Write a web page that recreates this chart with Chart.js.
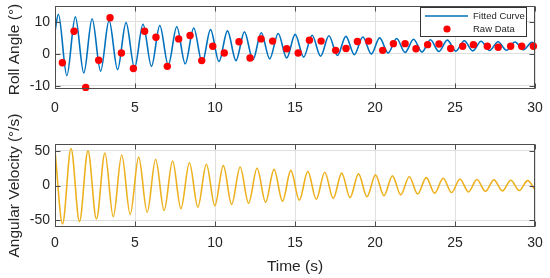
<!DOCTYPE html>
<html><head><meta charset="utf-8">
<script src="https://cdn.jsdelivr.net/npm/chart.js@4/dist/chart.umd.min.js"></script>
<style>
html,body{margin:0;padding:0;background:#fff;width:550px;height:278px;overflow:hidden}
canvas{position:absolute;left:0;top:0}
</style></head><body>
<canvas id="c2" width="550" height="278"></canvas>
<canvas id="c1" width="550" height="278"></canvas>
<script>
// ---- tick labels ----
const xTicks = [0, 5, 10, 15, 20, 25, 30];
const rollTicks = [-10, 0, 10];
const velTicks = [-50, 0, 50];
const seriesNames = ['Fitted Curve', 'Raw Data'];
const xTitle = 'Time (s)';
const rollTitle = 'Roll Angle (°)';
const velTitle = 'Angular Velocity (°/s)';

// ---- fitted roll angle (peaks / troughs) ----
const rollTime = [0, 0.21, 0.74, 1.27, 1.80, 2.32, 2.85, 3.38, 3.91, 4.44, 4.97, 5.50, 6.03, 6.55, 7.08, 7.61, 8.14, 8.67, 9.20, 9.72, 10.25,
  10.78, 11.31, 11.84, 12.37, 12.89, 13.42, 13.95, 14.48, 15.01, 15.54, 16.07, 16.60, 17.12, 17.65, 18.18, 18.71, 19.24, 19.77, 20.29,
  20.82, 21.35, 21.88, 22.41, 22.94, 23.46, 23.99, 24.52, 25.05, 25.58, 26.11, 26.63, 27.16, 27.69, 28.22, 28.75, 29.28, 29.81, 30];
const rollFit = [7.1, 12.4, -6.8, 11.6, -6.0, 11.0, -5.4, 10.5, -4.9, 9.8, -4.4, 9.3, -3.9, 8.9, -3.5, 8.5, -3.1, 8.1, -2.75, 7.6, -2.4,
  7.2, -2.1, 6.9, -1.8, 6.6, -1.55, 6.4, -1.3, 6.1, -1.0, 5.85, -0.75, 5.7, -0.5, 5.5, -0.25, 5.3, 0.0, 5.0,
  0.25, 4.8, 0.45, 4.6, 0.6, 4.45, 0.75, 4.3, 0.85, 4.1, 0.95, 3.95, 1.05, 3.8, 1.15, 3.7, 1.3, 3.6, 3.0];

// ---- raw roll data ----
const rawTime = [0.46, 1.19, 1.92, 2.73, 3.44, 4.15, 4.90, 5.60, 6.31, 7.02, 7.73, 8.44, 9.17, 9.86, 10.58, 11.50, 12.19, 12.88, 13.60, 14.48, 15.20,
  15.90, 16.63, 17.54, 18.19, 18.90, 19.60, 20.48, 21.15, 21.88, 22.56, 23.29, 24.00, 24.73, 25.48, 26.15, 27.02, 27.70, 28.48, 29.17, 29.90];
const rawRoll = [-2.8, 7.1, -10.5, -2.0, 11.3, 0.3, -4.6, 7.1, 5.2, -3.9, 4.7, 5.75, -2.1, 2.4, 0.3, 3.8, -1.3, 4.7, 4.0, 1.6, 0.3,
  4.3, 4.0, 1.1, 1.7, 3.9, 4.0, 1.1, 3.2, 3.2, 1.6, 2.9, 3.1, 1.7, 2.4, 2.9, 2.4, 2.1, 2.4, 2.4, 2.4];

// ---- angular velocity (peaks / troughs) ----
const velTime = [0, 0.47, 1.00, 1.53, 2.06, 2.59, 3.12, 3.64, 4.17, 4.70, 5.23, 5.76, 6.29, 6.82, 7.35, 7.87, 8.40, 8.93, 9.46, 9.99,
  10.52, 11.04, 11.57, 12.10, 12.63, 13.16, 13.69, 14.22, 14.74, 15.27, 15.80, 16.33, 16.86, 17.39, 17.92, 18.44, 18.97, 19.50, 20.03,
  20.56, 21.09, 21.61, 22.14, 22.67, 23.20, 23.73, 24.26, 24.79, 25.31, 25.84, 26.37, 26.90, 27.43, 27.96, 28.49, 29.01, 29.54, 30];
const velValue = [51, -55.5, 53.5, -52, 50, -48.5, 47, -45, 44, -41.8, 41, -38.8, 38, -36, 35.5, -33.5, 33, -31.3, 30.8, -29.3,
  28.7, -27.4, 26.8, -25.7, 25, -24.1, 23.3, -22.6, 21.8, -21.2, 20.4, -19.9, 19.1, -18.6, 17.9, -17.4, 16.8, -16.2, 15.4,
  -14.8, 13.9, -13.5, 12.6, -12.3, 11.4, -11.2, 10.4, -10.2, 9.5, -9.3, 8.7, -8.5, 8.1, -7.8, 7.6, -7.2, 7.0, -6.2];

const FONT = '"Liberation Sans", Arial, Helvetica, sans-serif';
Chart.defaults.font.family = FONT;
Chart.defaults.color = '#262626';
const TXT = '#262626';
const GRID = '#dfdfdf';
const BLUE = '#0072BD', RED = '#FF0000', ORANGE = '#EDB120';

const pairs = (xs, ys) => xs.map((x, i) => ({x, y: ys[i]}));

function xScale(height, pad, showTitle) {
  return {
    type: 'linear', min: 0, max: 30,
    afterBuildTicks: s => { s.ticks = xTicks.map(v => ({value: v})); },
    afterFit: s => { s.height = height; s.paddingLeft = 0; s.paddingRight = 0; },
    grid: {color: GRID, drawTicks: false, lineWidth: 1},
    border: {display: false},
    ticks: {font: {size: 14}, color: TXT, padding: pad, maxRotation: 0, autoSkip: false},
    title: {display: showTitle, text: xTitle, font: {size: 15.5}, color: TXT, padding: {top: 0, bottom: 2}}
  };
}
function yScale(min, max, ticks, title, shift) {
  return {
    type: 'linear', min, max,
    afterBuildTicks: s => { s.ticks = ticks.map(v => ({value: v})); },
    afterFit: s => { s.width = 55; s.paddingTop = 0; s.paddingBottom = 0; },
    grid: {color: GRID, drawTicks: false, lineWidth: 1},
    border: {display: false},
    ticks: {font: {size: 14}, color: TXT, padding: 5},
    title: {display: false, text: title, font: {size: 15.5}, color: TXT},
    _titleShift: shift
  };
}

// y-axis title drawn as real canvas text, allowed to overflow the plot height
const yTitlePlugin = {
  id: 'yTitle',
  afterDraw(chart) {
    const {ctx, chartArea: a} = chart;
    const o = chart.options.scales.y;
    ctx.save();
    ctx.translate(15, (a.top + a.bottom) / 2 + (o._titleShift || 0));
    ctx.rotate(-Math.PI / 2);
    ctx.fillStyle = TXT;
    ctx.font = '15.5px ' + FONT;
    ctx.textAlign = 'center';
    ctx.textBaseline = 'middle';
    ctx.fillText(o.title.text, 0, 0);
    ctx.restore();
  }
};

const framePlugin = {
  id: 'frame',
  afterDatasetsDraw(chart) {
    const {ctx, chartArea: a, scales} = chart;
    ctx.save();
    ctx.strokeStyle = '#4d4d4d';
    ctx.lineWidth = 1;
    const L = Math.round(a.left) + 0.5, R = Math.round(a.right) - 0.5;
    const T = Math.round(a.top) + 0.5, B = Math.round(a.bottom) - 0.5;
    ctx.strokeRect(L, T, R - L, B - T);
    ctx.beginPath();
    const tl = 5;
    scales.x.ticks.forEach(t => {
      const p = Math.round(scales.x.getPixelForValue(t.value)) + 0.5;
      ctx.moveTo(p, B); ctx.lineTo(p, B - tl);
      ctx.moveTo(p, T); ctx.lineTo(p, T + tl);
    });
    scales.y.ticks.forEach(t => {
      const p = Math.round(scales.y.getPixelForValue(t.value)) + 0.5;
      ctx.moveTo(L, p); ctx.lineTo(L + tl, p);
      ctx.moveTo(R, p); ctx.lineTo(R - tl, p);
    });
    ctx.stroke();
    ctx.restore();
  }
};

const legendPlugin = {
  id: 'boxLegend',
  afterDraw(chart) {
    const {ctx, chartArea: a} = chart;
    const ds = chart.data.datasets;
    const w = 106, h = 29;
    const x0 = Math.round(a.right - 9 - w) + 0.5, y0 = Math.round(a.top + 1) + 0.5;
    ctx.save();
    ctx.fillStyle = '#fff';
    ctx.fillRect(x0, y0, w, h);
    ctx.strokeStyle = '#333';
    ctx.lineWidth = 1;
    ctx.strokeRect(x0, y0, w, h);
    const lineDs = ds.find(d => d.type === 'line');
    const dotDs = ds.find(d => d.type === 'scatter');
    const r1 = y0 + 8.5, r2 = y0 + 21.5;
    ctx.strokeStyle = lineDs.borderColor; ctx.lineWidth = 1.5;
    ctx.beginPath(); ctx.moveTo(x0 + 4.5, r1); ctx.lineTo(x0 + 47.5, r1); ctx.stroke();
    ctx.fillStyle = dotDs.backgroundColor;
    ctx.beginPath(); ctx.arc(x0 + 26.5, r2, 3.6, 0, Math.PI * 2); ctx.fill();
    ctx.fillStyle = TXT;
    ctx.font = '9.5px ' + FONT;
    ctx.textBaseline = 'middle';
    ctx.textAlign = 'left';
    ctx.fillText(lineDs.label, x0 + 52.5, r1 + 0.5);
    ctx.fillText(dotDs.label, x0 + 52.5, r2 + 0.5);
    ctx.restore();
  }
};

const common = {
  responsive: false, animation: false, devicePixelRatio: 1, events: [],
  plugins: {legend: {display: false}, tooltip: {enabled: false}}
};

// top panel: plot area x 55..535, y 6..89
new Chart(document.getElementById('c1'), {
  type: 'line',
  data: {
    datasets: [
      {type: 'scatter', label: seriesNames[1], data: pairs(rawTime, rawRoll), backgroundColor: RED, borderWidth: 0,
        pointRadius: 3.7, showLine: false, clip: false},
      {type: 'line', label: seriesNames[0], data: pairs(rollTime, rollFit), borderColor: BLUE, borderWidth: 1.6,
        pointRadius: 0, cubicInterpolationMode: 'monotone', fill: false}
    ]
  },
  options: Object.assign({}, common, {
    layout: {padding: {top: 6, right: 15, left: 0, bottom: 0}},
    scales: {x: xScale(189, 11, false), y: yScale(-11, 15, rollTicks, rollTitle, 2)}
  }),
  plugins: [framePlugin, legendPlugin, yTitlePlugin]
});

// bottom panel: plot area x 55..535, y 144..227
new Chart(document.getElementById('c2'), {
  type: 'line',
  data: {
    datasets: [
      {type: 'line', label: velTitle, data: pairs(velTime, velValue), borderColor: ORANGE, borderWidth: 1.6,
        pointRadius: 0, cubicInterpolationMode: 'monotone', fill: false}
    ]
  },
  options: Object.assign({}, common, {
    layout: {padding: {top: 144, right: 15, left: 0, bottom: 0}},
    scales: {x: xScale(51, 8, true), y: yScale(-60, 60, velTicks, velTitle, 0)}
  }),
  plugins: [framePlugin, yTitlePlugin]
});
</script>
</body></html>
